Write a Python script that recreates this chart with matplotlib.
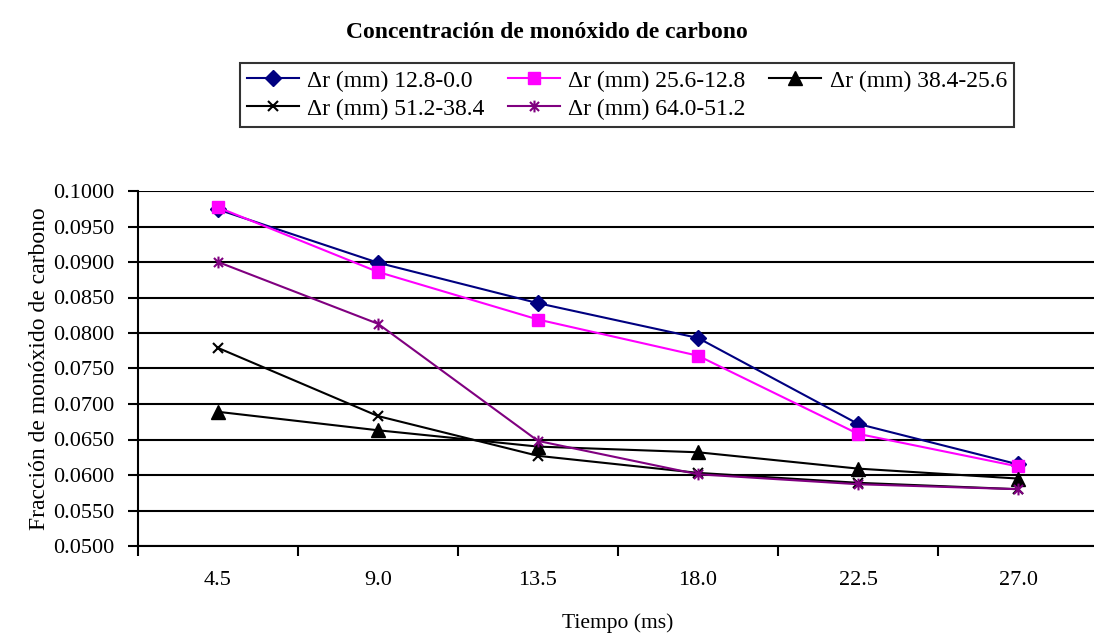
import matplotlib
matplotlib.use("Agg")
import matplotlib.pyplot as plt
from matplotlib.path import Path
from matplotlib.ticker import FixedLocator, FuncFormatter

plt.rcParams['font.family'] = ['Liberation Serif', 'DejaVu Serif']

categories = ["4.5", "9.0", "13.5", "18.0", "22.5", "27.0"]
s1 = [0.0974, 0.0899, 0.0842, 0.0793, 0.0672, 0.0615]
s2 = [0.0977, 0.0886, 0.0819, 0.0768, 0.0658, 0.0612]
s3 = [0.0689, 0.0663, 0.0640, 0.0632, 0.0609, 0.0595]
s4 = [0.0779, 0.0683, 0.0627, 0.0603, 0.0589, 0.0580]
s5 = [0.0900, 0.0813, 0.0648, 0.0601, 0.0587, 0.0580]
labels = ["Δr (mm) 12.8-0.0", "Δr (mm) 25.6-12.8", "Δr (mm) 38.4-25.6",
          "Δr (mm) 51.2-38.4", "Δr (mm) 64.0-51.2"]

star = Path([(-1, -1), (1, 1), (-1, 1), (1, -1), (0, -1.3), (0, 1.3)],
            [Path.MOVETO, Path.LINETO, Path.MOVETO, Path.LINETO, Path.MOVETO, Path.LINETO])

fig = plt.figure(figsize=(10.94, 6.43), dpi=100)
ax = fig.add_axes([138/1094, 1-546/643, 960/1094, (546-191)/643])

x = list(range(len(categories)))
styles = [
    dict(color="#000080", marker="D", ms=8.5, mfc="#000080", mec="#000080"),
    dict(color="#FF00FF", marker="s", ms=8.5, mfc="#FF00FF", mec="#FF00FF"),
    dict(color="black", marker="^", ms=9.5, mfc="black", mec="black"),
    dict(color="black", marker="x", ms=7.5, mew=1.5),
    dict(color="#800080", marker=star, ms=8.5, mew=1.5, mec="#800080"),
]
handles = []
for ys, lab, st in zip([s1, s2, s3, s4, s5], labels, styles):
    h, = ax.plot(x, ys, lw=1.5, label=lab, zorder=3, clip_on=False, **st)
    handles.append(h)

ax.set_xlim(-0.5, 5.5)
ax.set_ylim(0.05, 0.10)
yt = [0.05 + 0.005 * i for i in range(11)]
ax.yaxis.set_major_locator(FixedLocator(yt))
ax.yaxis.set_major_formatter(FuncFormatter(lambda v, p: f"{v:.4f}"))
ax.grid(axis='y', color='black', lw=1.5, zorder=1)

ax.xaxis.set_major_locator(FixedLocator([i - 0.5 for i in range(7)]))
ax.xaxis.set_major_formatter(FuncFormatter(lambda v, p: ""))
ax.xaxis.set_minor_locator(FixedLocator(x))
ax.set_xticklabels(categories, minor=True)
ax.tick_params(axis='x', which='minor', length=0, pad=18, labelsize=16)
ax.tick_params(axis='x', which='major', length=7, width=1.5, direction='out')
ax.tick_params(axis='y', length=7, width=1.5, direction='out', labelsize=16, pad=10)

for side in ['top', 'right']:
    ax.spines[side].set_visible(False)
for side in ['left', 'bottom']:
    ax.spines[side].set_linewidth(1.5)

ax.set_ylabel("Fracción de monóxido de carbono", fontsize=17, labelpad=2)
ax.set_xlabel("Tiempo (ms)", fontsize=15.5, labelpad=17)

fig.text(0.5, 1-32/643, "Concentración de monóxido de carbono", ha='center', va='center',
         fontsize=17, fontweight='bold')

order = [0, 3, 1, 4, 2]
leg = fig.legend([handles[i] for i in order], [labels[i] for i in order], ncol=3,
                 loc='upper center', bbox_to_anchor=(0.573, 1-63/643), borderaxespad=0,
                 fontsize=17, frameon=True, fancybox=False, edgecolor='black',
                 handlelength=2.2, handletextpad=0.35, columnspacing=1.0,
                 labelspacing=0.28, borderpad=0.3)
leg.get_frame().set_linewidth(1.5)

fig.savefig("out.png", dpi=100)
